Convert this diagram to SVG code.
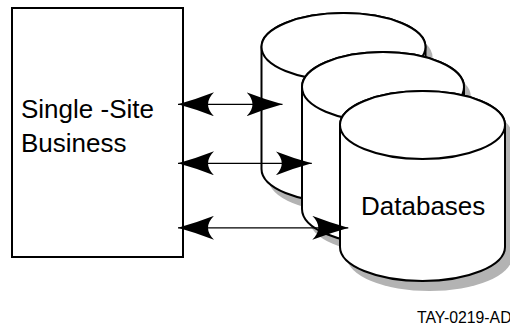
<svg xmlns="http://www.w3.org/2000/svg" width="510" height="327" viewBox="0 0 510 327">
<style>
.txt{font-family:"Liberation Sans",Arial,sans-serif;fill:#000}
.box{fill:#fff;stroke:#000;stroke-width:2}
.cyl{fill:#fff;stroke:#000;stroke-width:2;stroke-linejoin:round}
.shadow{fill:#b3b3b3;stroke:none}
.conn{stroke:#000;stroke-width:1.3;fill:none;marker-start:url(#ah);marker-end:url(#ah)}
</style>
<defs>
<marker id="ah" markerUnits="userSpaceOnUse" viewBox="0 0 36 24" markerWidth="36" markerHeight="24" refX="36" refY="12" orient="auto-start-reverse">
<path d="M0,0 Q18,7 36,12 Q18,17 0,24 Q12,12 0,0 Z" fill="#000"/>
</marker>
</defs>
<rect width="510" height="327" fill="#fff"/>
<g id="business">
<rect class="box" x="12" y="8" width="171" height="249"/>
<text class="txt" x="21" y="118" font-size="26">Single -Site</text>
<text class="txt" x="21" y="152" font-size="26">Business</text>
</g>
<g id="db1">
<path class="shadow" transform="translate(7,10)" d="M261.5,47 V169 A82,34 0 0 0 425.5,169 V47 A82,34 0 0 0 261.5,47 Z"/>
<path class="cyl" d="M261.5,47 V169 A82,34 0 0 0 425.5,169 V47 A82,34 0 0 0 261.5,47 Z"/>
<ellipse class="cyl" cx="343.5" cy="47" rx="82" ry="34"/>
</g>
<g id="db2">
<path class="shadow" transform="translate(7,10)" d="M302,87 V209 A81,35 0 0 0 464,209 V87 A81,35 0 0 0 302,87 Z"/>
<path class="cyl" d="M302,87 V209 A81,35 0 0 0 464,209 V87 A81,35 0 0 0 302,87 Z"/>
<ellipse class="cyl" cx="383" cy="87" rx="81" ry="35"/>
</g>
<g id="db3">
<path class="shadow" transform="translate(7,10)" d="M340,125 V247 A82.5,34 0 0 0 505,247 V125 A82.5,34 0 0 0 340,125 Z"/>
<path class="cyl" d="M340,125 V247 A82.5,34 0 0 0 505,247 V125 A82.5,34 0 0 0 340,125 Z"/>
<ellipse class="cyl" cx="422.5" cy="125" rx="82.5" ry="34"/>
<text class="txt" x="361" y="215" font-size="26">Databases</text>
</g>
<g id="connectors">
<line class="conn" x1="178" y1="104.3" x2="282.5" y2="104.3"/>
<line class="conn" x1="178" y1="163.3" x2="311.8" y2="163.3"/>
<line class="conn" x1="178" y1="227.8" x2="348.3" y2="227.8"/>
</g>
<text class="txt" x="417" y="323.3" font-size="15.8">TAY-0219-AD</text>
</svg>
